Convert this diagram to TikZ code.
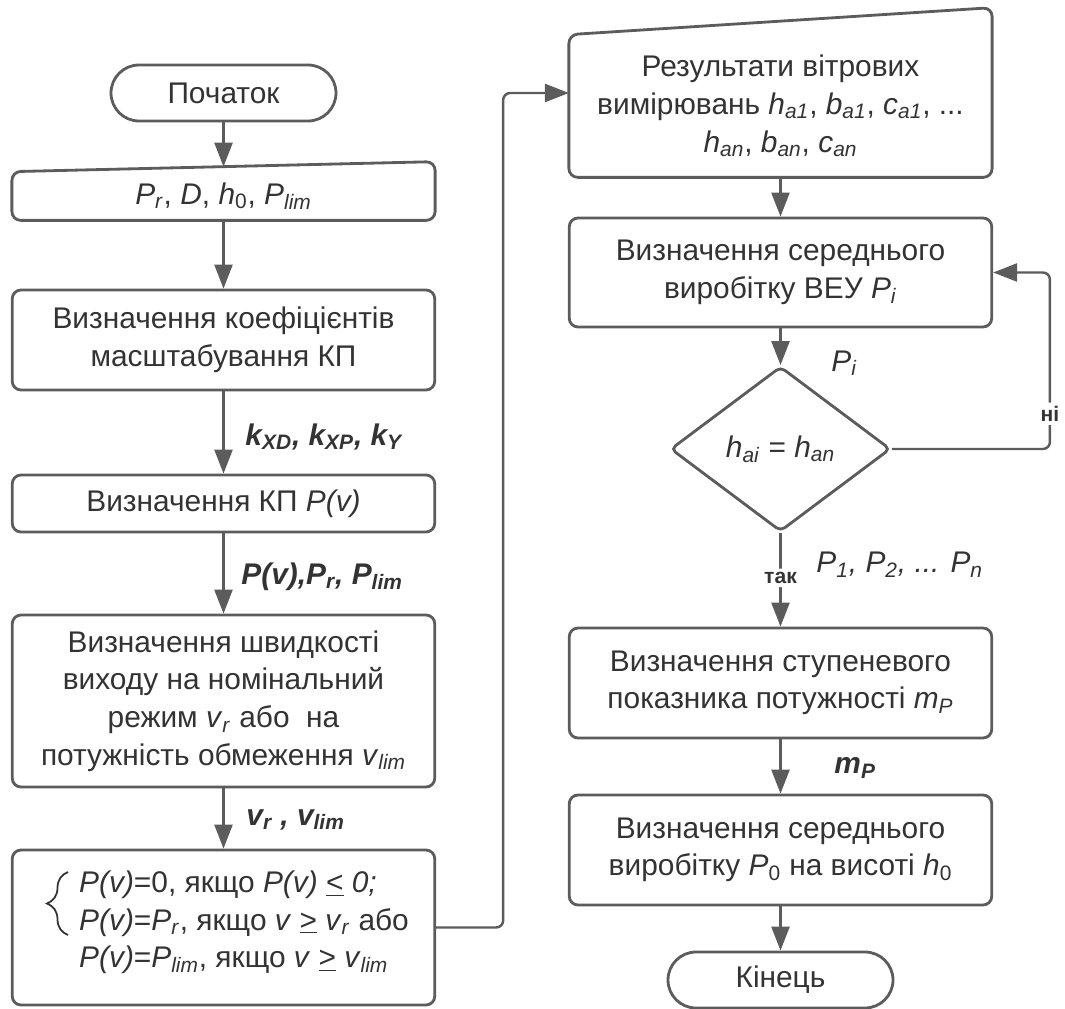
\documentclass[tikz,border=0pt]{standalone}
\usepackage{fontspec}
\setmainfont{Liberation Sans}
\usetikzlibrary{arrows.meta,shapes.geometric,decorations.pathreplacing,positioning}

\definecolor{linegray}{HTML}{5C5C5C}
\definecolor{textgray}{HTML}{333333}

\newcommand{\vsub}[2]{\textit{#1}\textsubscript{\textit{#2}}}

\tikzset{
  base/.style={text=textgray, font=\fontsize{17}{21.4}\selectfont},
  box/.style={base, draw=linegray, line width=1.6pt, rounded corners=5pt, fill=white, minimum width=8.45cm, align=center, inner sep=2pt},
  inbox/.style={base, minimum width=8.45cm, align=center, inner sep=2pt},
  outline/.style={draw=linegray, line width=1.6pt, rounded corners=5pt},
  term/.style={box, minimum width=4.5cm, minimum height=1.12cm, rounded corners=0.56cm},
  decision/.style={base, diamond, draw=linegray, line width=1.6pt, rounded corners=3pt, minimum width=4.4cm, minimum height=3.3cm, inner sep=0pt},
  arr/.style={draw=linegray, line width=1.4pt, rounded corners=4pt, -{Triangle[length=0.48cm,width=0.36cm]}},
  lbl/.style={text=textgray, font=\fontsize{17}{20}\selectfont\bfseries\itshape, inner sep=1pt},
  mlbl/.style={text=textgray, font=\fontsize{17}{20}\selectfont\itshape, inner sep=1pt},
  yn/.style={text=textgray, font=\fontsize{12}{14}\selectfont\bfseries, fill=white, inner sep=2pt},
  casebrace/.style={draw=textgray, line width=1pt, decorate, decoration={brace, amplitude=0.42cm}},
}

\begin{document}
\begin{tikzpicture}
  \useasboundingbox (0,0) rectangle (21.3,-20.18);

  % Left column: input data and power curve
  \begin{scope}[shift={(4.47,0)}]
    \node[term] (start) at (0,-1.86) {Початок};

    % manual input with slanted top
    \node[inbox, minimum height=0.96cm] (in) at (0,-3.92) {\vsub{P}{r}, \textit{D}, \textit{h}\textsubscript{0}, \vsub{P}{lim}};
    \draw[outline] (in.south west) -- (in.north west) -- ([yshift=0.2cm]in.north east) -- (in.south east) -- cycle;
    \coordinate (inTop) at ([yshift=0.1cm]in.north);

    \node[box, minimum height=2cm] (kp) at (0,-6.8) {Визначення коефіцієнтів\\масштабування КП};
    \node[box, minimum height=1.14cm] (pv) at (0,-10.07) {Визначення КП \textit{P(v)}};
    \node[box, minimum height=3.44cm] (vr) at (0,-14.02) {Визначення швидкості\\виходу на номінальний\\режим \vsub{v}{r} або~ на\\потужність обмеження \vsub{v}{lim}};

    % piecewise power curve
    \node[box, minimum height=3.1cm] (pw) at (0,-18.55) {};
    \node[base, align=left, anchor=west, inner sep=0pt] (pwtext) at ([xshift=1.36cm, yshift=0.1cm]pw.west)
      {\textit{P(v)}=0, якщо \textit{P(v)} \underline{<} \textit{0;}\\
       \textit{P(v)}=\vsub{P}{r}, якщо \textit{v} \underline{>} \vsub{v}{r} або\\
       \textit{P(v)}=\vsub{P}{lim}, якщо \textit{v} \underline{>} \vsub{v}{lim}};
    \draw[casebrace] (-3.11,-18.7) -- (-3.11,-17.44);

    % Connectors
    \draw[arr] (start) -- (inTop);
    \draw[arr] (in) -- (kp);
    \draw[arr] (kp) -- (pv) node[lbl, pos=0.55, right=0.38cm] (lk) {\vsub{k}{XD}, \vsub{k}{XP}, \vsub{k}{Y}};
    \draw[arr] (pv) -- (vr) node[lbl, pos=0.54, right=0.3cm] (lpv) {\textit{P(v)},\vsub{P}{r}, \vsub{P}{lim}};
    \draw[arr] (vr) -- (pw) node[lbl, pos=0.52, right=0.4cm] (lv) {\vsub{v}{r} , \vsub{v}{lim}};
  \end{scope}

  % Right column: wind measurements and mean output
  \begin{scope}[shift={(15.61,0)}]
    \node[inbox, minimum height=2.84cm] (res) at (0,-2.12) {Результати вітрових\\вимірювань \vsub{h}{a1}, \vsub{b}{a1}, \vsub{c}{a1}, ...\\\vsub{h}{an}, \vsub{b}{an}, \vsub{c}{an}};
    \draw[outline] (res.south west) -- (res.north west) -- ([yshift=0.54cm]res.north east) -- (res.south east) -- cycle;

    \node[box, minimum height=2.18cm] (mean) at (0,-5.45) {Визначення середнього\\виробітку ВЕУ \vsub{P}{i}};
    \node[decision] (dec) at (0,-8.98) {\vsub{h}{ai} = \vsub{h}{an}};
    \node[box, minimum height=2.2cm] (step) at (0,-13.66) {Визначення ступеневого\\показника потужності \vsub{m}{P}};
    \node[box, minimum height=2.2cm] (fin) at (0,-17.0) {Визначення середнього\\виробітку \textit{P}\textsubscript{0} на висоті \textit{h}\textsubscript{0}};
    \node[term] (stop) at (0,-19.6) {Кінець};

    % Connectors
    \draw[arr] (res) -- (mean);
    \draw[arr] (mean) -- (dec) node[mlbl, pos=0.95, right=0.96cm] (lpi) {\vsub{P}{i}};
    \draw[arr] (dec) -- (step) node[yn, pos=0.48] (yes) {так}
      node[mlbl, pos=0.34, right=0.66cm] (lpn) {\vsub{P}{1}, \vsub{P}{2}, ... \vsub{P}{n}};
    \draw[arr] (step) -- (fin) node[lbl, pos=0.53, right=1.02cm] (lm) {\vsub{m}{P}};
    \draw[arr] (fin) -- (stop);
    \draw[arr] (dec.east) -- ++(3.16,0) |- (mean.east) node[yn, pos=0.1] (no) {ні};
  \end{scope}

  % Link between columns
  \draw[arr] (pw.east) -- ++(1.34,0) |- ([yshift=0.26cm]res.west);
\end{tikzpicture}
\end{document}
